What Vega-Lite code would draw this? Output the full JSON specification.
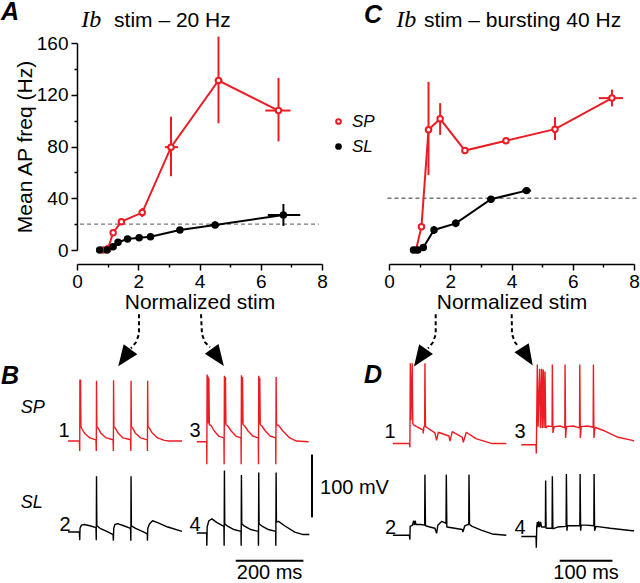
{
"$schema": "https://vega.github.io/schema/vega-lite/v6.json",
"background": "white",
"padding": {"left": 0, "top": 0, "right": 0, "bottom": 0},
"autosize": {"type": "pad"},
"config": {
 "view": {"stroke": null},
 "font": "Liberation Sans",
 "axis": {"domainColor": "black", "domainWidth": 1.5, "tickColor": "black", "tickWidth": 1.5, "labelColor": "black", "labelFont": "Liberation Sans", "labelFontSize": 19, "titleFont": "Liberation Sans", "titleFontSize": 21, "titleFontWeight": "normal", "titleColor": "black", "grid": false, "labelFlush": false, "labelOverlap": false}
},
"datasets": {
 "rA": [
  {"cell":"SP","stim":0.85,"freq":0,"stim_lo":0.85,"stim_hi":0.85,"freq_lo":0,"freq_hi":0},
  {"cell":"SP","stim":1.01,"freq":1,"stim_lo":1.01,"stim_hi":1.01,"freq_lo":1,"freq_hi":1},
  {"cell":"SP","stim":1.18,"freq":13.4,"stim_lo":1.18,"stim_hi":1.18,"freq_lo":11.5,"freq_hi":15.3},
  {"cell":"SP","stim":1.45,"freq":21.9,"stim_lo":1.4,"stim_hi":1.5,"freq_lo":20,"freq_hi":24},
  {"cell":"SP","stim":2.13,"freq":28.9,"stim_lo":2.05,"stim_hi":2.21,"freq_lo":25.5,"freq_hi":32.5},
  {"cell":"SP","stim":3.07,"freq":79.5,"stim_lo":2.87,"stim_hi":3.3,"freq_lo":57,"freq_hi":103},
  {"cell":"SP","stim":4.62,"freq":131,"stim_lo":4.5,"stim_hi":4.75,"freq_lo":98,"freq_hi":165},
  {"cell":"SP","stim":6.58,"freq":107.8,"stim_lo":6.15,"stim_hi":6.97,"freq_lo":84,"freq_hi":133},
  {"cell":"SL","stim":0.74,"freq":0,"stim_lo":0.74,"stim_hi":0.74,"freq_lo":0,"freq_hi":0},
  {"cell":"SL","stim":0.98,"freq":0,"stim_lo":0.98,"stim_hi":0.98,"freq_lo":0,"freq_hi":0},
  {"cell":"SL","stim":1.18,"freq":2.6,"stim_lo":1.18,"stim_hi":1.18,"freq_lo":2.6,"freq_hi":2.6},
  {"cell":"SL","stim":1.34,"freq":6,"stim_lo":1.34,"stim_hi":1.34,"freq_lo":6,"freq_hi":6},
  {"cell":"SL","stim":1.65,"freq":8.5,"stim_lo":1.65,"stim_hi":1.65,"freq_lo":8.5,"freq_hi":8.5},
  {"cell":"SL","stim":2.03,"freq":9.5,"stim_lo":2.03,"stim_hi":2.03,"freq_lo":9.5,"freq_hi":9.5},
  {"cell":"SL","stim":2.4,"freq":10.3,"stim_lo":2.4,"stim_hi":2.4,"freq_lo":10.3,"freq_hi":10.3},
  {"cell":"SL","stim":3.36,"freq":15.5,"stim_lo":3.26,"stim_hi":3.46,"freq_lo":14,"freq_hi":17},
  {"cell":"SL","stim":4.51,"freq":19.4,"stim_lo":4.35,"stim_hi":4.65,"freq_lo":17,"freq_hi":22},
  {"cell":"SL","stim":6.74,"freq":27.1,"stim_lo":6.23,"stim_hi":7.29,"freq_lo":18.6,"freq_hi":35.6}
 ],
 "rC": [
  {"cell":"SP","stim":0.88,"freq":0,"stim_lo":0.88,"stim_hi":0.88,"freq_lo":0,"freq_hi":0},
  {"cell":"SP","stim":1.06,"freq":18,"stim_lo":1.06,"stim_hi":1.06,"freq_lo":16,"freq_hi":20},
  {"cell":"SP","stim":1.29,"freq":92.9,"stim_lo":1.25,"stim_hi":1.33,"freq_lo":58,"freq_hi":130},
  {"cell":"SP","stim":1.67,"freq":101.4,"stim_lo":1.62,"stim_hi":1.72,"freq_lo":89,"freq_hi":113.5},
  {"cell":"SP","stim":2.48,"freq":76.9,"stim_lo":2.48,"stim_hi":2.48,"freq_lo":76.9,"freq_hi":76.9},
  {"cell":"SP","stim":3.82,"freq":84.4,"stim_lo":3.76,"stim_hi":3.88,"freq_lo":83,"freq_hi":86},
  {"cell":"SP","stim":5.42,"freq":93.4,"stim_lo":5.34,"stim_hi":5.5,"freq_lo":85,"freq_hi":102.7},
  {"cell":"SP","stim":7.28,"freq":117.4,"stim_lo":6.85,"stim_hi":7.64,"freq_lo":111,"freq_hi":124},
  {"cell":"SL","stim":0.8,"freq":0,"stim_lo":0.8,"stim_hi":0.8,"freq_lo":0,"freq_hi":0},
  {"cell":"SL","stim":0.94,"freq":0,"stim_lo":0.94,"stim_hi":0.94,"freq_lo":0,"freq_hi":0},
  {"cell":"SL","stim":1.12,"freq":2,"stim_lo":1.12,"stim_hi":1.12,"freq_lo":2,"freq_hi":2},
  {"cell":"SL","stim":1.47,"freq":15.5,"stim_lo":1.39,"stim_hi":1.55,"freq_lo":12.5,"freq_hi":18.5},
  {"cell":"SL","stim":2.18,"freq":20.6,"stim_lo":2.06,"stim_hi":2.3,"freq_lo":17.6,"freq_hi":23.6},
  {"cell":"SL","stim":3.33,"freq":39.2,"stim_lo":3.21,"stim_hi":3.45,"freq_lo":36.7,"freq_hi":41.7},
  {"cell":"SL","stim":4.49,"freq":45.9,"stim_lo":4.34,"stim_hi":4.64,"freq_lo":43.4,"freq_hi":48.4}
 ],
 "arrows": [
  {"arrow":"A1","seq":1,"t":175,"v":134},{"arrow":"A1","seq":2,"t":175,"v":102.1},{"arrow":"A1","seq":3,"t":166.2,"v":89.4},{"arrow":"A1","seq":4,"t":151.4,"v":79.8},
  {"arrow":"A2","seq":1,"t":-17.2,"v":134},{"arrow":"A2","seq":2,"t":-14.3,"v":102.1},{"arrow":"A2","seq":3,"t":-5.4,"v":89.4},{"arrow":"A2","seq":4,"t":9.4,"v":81.4},
  {"arrow":"C1","seq":1,"t":48.9,"v":134},{"arrow":"C1","seq":2,"t":48.9,"v":102.1},{"arrow":"C1","seq":3,"t":43.8,"v":89.4},{"arrow":"C1","seq":4,"t":34.3,"v":79.8},
  {"arrow":"C2","seq":1,"t":-46.6,"v":134},{"arrow":"C2","seq":2,"t":-46.1,"v":102.1},{"arrow":"C2","seq":3,"t":-40.4,"v":89.4},{"arrow":"C2","seq":4,"t":-32.8,"v":81.4}
 ],
 "B1": [{"t":-34.6,"v":-68},{"t":-1,"v":-68},{"t":0,"v":-84},{"t":0.6,"v":30},{"t":1.5,"v":-30},{"t":2.5,"v":30},{"t":3.5,"v":-45},{"t":6,"v":-48},{"t":15,"v":-56},{"t":30,"v":-63},{"t":48,"v":-66},{"t":49,"v":-84},{"t":49.6,"v":28},{"t":50.6,"v":-45},{"t":54,"v":-47},{"t":62,"v":-55},{"t":78,"v":-63},{"t":98.5,"v":-66},{"t":99.4,"v":-84},{"t":100,"v":29},{"t":101,"v":-45},{"t":104.5,"v":-47},{"t":113,"v":-55},{"t":128,"v":-63},{"t":150,"v":-66},{"t":151,"v":-84},{"t":151.6,"v":28},{"t":152.6,"v":-45},{"t":156,"v":-47},{"t":164,"v":-55},{"t":180,"v":-63},{"t":199.5,"v":-66},{"t":200,"v":-84},{"t":200.6,"v":28},{"t":201.6,"v":-45},{"t":205,"v":-47},{"t":214,"v":-55},{"t":230,"v":-63},{"t":250,"v":-67},{"t":265,"v":-68},{"t":302,"v":-68}],
 "B3": [{"t":-29.6,"v":-69},{"t":-0.5,"v":-69},{"t":0,"v":-105},{"t":0.8,"v":38},{"t":2,"v":-40},{"t":3,"v":36},{"t":4.5,"v":-40},{"t":6,"v":33},{"t":7.5,"v":-42},{"t":12,"v":-43},{"t":22,"v":-52},{"t":35,"v":-60},{"t":50.5,"v":-63},{"t":51.2,"v":-105},{"t":52,"v":36},{"t":53.2,"v":-40},{"t":55,"v":34},{"t":56.5,"v":-42},{"t":62,"v":-44},{"t":72,"v":-52},{"t":86,"v":-60},{"t":101,"v":-63},{"t":101.5,"v":-105},{"t":102.3,"v":37},{"t":103.5,"v":-40},{"t":105.5,"v":34},{"t":107,"v":-42},{"t":112,"v":-44},{"t":122,"v":-52},{"t":136,"v":-60},{"t":152.2,"v":-63},{"t":152.7,"v":-105},{"t":153.5,"v":36},{"t":154.7,"v":-40},{"t":156.5,"v":33},{"t":158,"v":-42},{"t":163,"v":-44},{"t":173,"v":-52},{"t":187,"v":-60},{"t":203.5,"v":-63},{"t":204,"v":-105},{"t":204.8,"v":34},{"t":206,"v":-42},{"t":212,"v":-43},{"t":225,"v":-52},{"t":245,"v":-63},{"t":265,"v":-68},{"t":301,"v":-69}],
 "B2": [{"t":-34.6,"v":-68},{"t":-1,"v":-68},{"t":0,"v":-81},{"t":1,"v":-62},{"t":5,"v":-57},{"t":13,"v":-56},{"t":30,"v":-58},{"t":48,"v":-61},{"t":49,"v":-81},{"t":49.6,"v":21},{"t":50.6,"v":-58},{"t":60,"v":-62},{"t":80,"v":-67},{"t":98.5,"v":-72},{"t":99.4,"v":-82},{"t":100.5,"v":-62},{"t":104,"v":-56},{"t":112,"v":-54.5},{"t":130,"v":-58},{"t":150,"v":-62},{"t":151,"v":-82},{"t":151.6,"v":21},{"t":152.6,"v":-58},{"t":165,"v":-62},{"t":185,"v":-67},{"t":199.5,"v":-71},{"t":200,"v":-82},{"t":201,"v":-62},{"t":206,"v":-55},{"t":215,"v":-50},{"t":230,"v":-53},{"t":260,"v":-60},{"t":302,"v":-67}],
 "B4": [{"t":-29.6,"v":-69.5},{"t":-0.5,"v":-69.5},{"t":0,"v":-90},{"t":1,"v":-60},{"t":6,"v":-50},{"t":15,"v":-47},{"t":30,"v":-53},{"t":50.5,"v":-59},{"t":51.2,"v":-90},{"t":52,"v":30},{"t":53,"v":-55},{"t":60,"v":-58},{"t":80,"v":-64},{"t":101,"v":-67},{"t":101.5,"v":-90},{"t":102.3,"v":23},{"t":103.3,"v":-55},{"t":110,"v":-58},{"t":130,"v":-64},{"t":152.2,"v":-67},{"t":152.7,"v":-90},{"t":153.5,"v":27},{"t":154.5,"v":-55},{"t":162,"v":-58},{"t":182,"v":-64},{"t":203.5,"v":-67},{"t":204,"v":-90},{"t":204.8,"v":27},{"t":205.8,"v":-52},{"t":212,"v":-51},{"t":230,"v":-58},{"t":260,"v":-68},{"t":285,"v":-72},{"t":303,"v":-72}],
 "D1": [{"t":-32.3,"v":-72},{"t":-0.5,"v":-72},{"t":0,"v":-78},{"t":0.8,"v":56},{"t":2,"v":-35},{"t":4.4,"v":56},{"t":5.5,"v":-40},{"t":8,"v":-43},{"t":15,"v":-46},{"t":24.8,"v":-50},{"t":25.3,"v":-56},{"t":26.5,"v":-45},{"t":28,"v":-45},{"t":28.5,"v":56},{"t":29.5,"v":-45},{"t":35,"v":-48},{"t":47.4,"v":-55},{"t":50.6,"v":-67},{"t":53.8,"v":-54},{"t":74,"v":-60},{"t":75.9,"v":-68},{"t":80.3,"v":-53},{"t":99.3,"v":-62},{"t":101.2,"v":-70},{"t":106.9,"v":-54},{"t":125,"v":-64},{"t":156,"v":-72},{"t":182.7,"v":-72}],
 "D3": [{"t":-28.5,"v":-74},{"t":-0.5,"v":-74},{"t":0,"v":-88},{"t":1.9,"v":54},{"t":3.5,"v":-45},{"t":6.4,"v":47},{"t":8,"v":-47},{"t":10.2,"v":47},{"t":11.5,"v":-47},{"t":13.3,"v":46},{"t":14.8,"v":-47},{"t":16.5,"v":43},{"t":18,"v":-47},{"t":22,"v":-44},{"t":29.9,"v":-45},{"t":30.4,"v":54},{"t":31.5,"v":-55},{"t":34,"v":-45},{"t":45,"v":-44},{"t":54,"v":-47},{"t":54.5,"v":54},{"t":55.5,"v":-63},{"t":57,"v":-45},{"t":70,"v":-44},{"t":81.9,"v":-47},{"t":82.4,"v":54},{"t":83.4,"v":-63},{"t":85,"v":-45},{"t":97,"v":-44},{"t":107.7,"v":-46},{"t":108.2,"v":54},{"t":109.2,"v":-63},{"t":111,"v":-46},{"t":130,"v":-52},{"t":155,"v":-62},{"t":182,"v":-67},{"t":185.4,"v":-68}],
 "D2": [{"t":-32.3,"v":-73},{"t":-1,"v":-73},{"t":0,"v":-80},{"t":0.5,"v":-59},{"t":5,"v":-57},{"t":7,"v":-50},{"t":8.5,"v":-57},{"t":10,"v":-50},{"t":11.5,"v":-56},{"t":20,"v":-56},{"t":28,"v":-57},{"t":28.5,"v":23.5},{"t":29.5,"v":-58},{"t":38,"v":-60},{"t":47.4,"v":-62},{"t":50.6,"v":-70},{"t":53,"v":-57},{"t":60,"v":-51},{"t":66,"v":-53},{"t":68.4,"v":-54},{"t":69,"v":23.5},{"t":70,"v":-60},{"t":85,"v":-62},{"t":99.3,"v":-64},{"t":100.5,"v":-68},{"t":104,"v":-58},{"t":110,"v":-56},{"t":111.5,"v":-56},{"t":112,"v":23.5},{"t":113,"v":-56},{"t":118,"v":-59},{"t":135,"v":-65},{"t":156,"v":-71},{"t":182.7,"v":-73}],
 "D4": [{"t":-28.5,"v":-75},{"t":-0.5,"v":-75},{"t":0,"v":-93},{"t":0.8,"v":-60},{"t":2,"v":-52},{"t":3,"v":-60},{"t":4.5,"v":-51},{"t":6,"v":-60},{"t":8,"v":-52},{"t":10,"v":-60},{"t":14,"v":-60},{"t":17.2,"v":-60},{"t":17.7,"v":14},{"t":18.5,"v":-62},{"t":25,"v":-62},{"t":29.9,"v":-62},{"t":30.4,"v":21},{"t":31.4,"v":-63},{"t":40,"v":-60},{"t":56.5,"v":-59},{"t":57,"v":24.5},{"t":58,"v":-66},{"t":59,"v":-58},{"t":70,"v":-58},{"t":82.5,"v":-58},{"t":83,"v":24.5},{"t":84,"v":-66},{"t":85,"v":-57},{"t":95,"v":-57},{"t":109,"v":-58},{"t":109.5,"v":24.5},{"t":110.5,"v":-66},{"t":113,"v":-59},{"t":140,"v":-62},{"t":182,"v":-66},{"t":185.4,"v":-66}]
},
"bounds": "full",
"spacing": -2,
"resolve": {"scale": {"stroke": "independent", "fill": "independent"}},
"vconcat": [
 {
  "hconcat": [
   {
    "width": 245, "height": 207,
    "resolve": {"axis": {"x": "independent", "y": "independent"}},
    "layer": [
     {"data": {"values": [{}]}, "mark": {"type": "rule", "strokeDash": [4, 3], "color": "#777777", "strokeWidth": 1.3},
      "encoding": {
       "x": {"datum": 0.1, "type": "quantitative", "scale": {"domain": [0, 8], "nice": false, "zero": false},
        "axis": {"values": [0,1,2,3,4,5,6,7,8], "labelExpr": "datum.value % 2 === 0 ? datum.label : ''", "tickSize": {"condition": {"test": "datum.value % 2 === 0", "value": 6}, "value": 3}, "offset": 14, "title": "Normalized stim", "titlePadding": 0, "labelPadding": 2}},
       "x2": {"datum": 7.9},
       "y": {"datum": 20, "type": "quantitative", "scale": {"domain": [0, 160], "nice": false, "zero": false},
        "axis": {"values": [0,20,40,60,80,100,120,140,160], "labelExpr": "datum.value % 40 === 0 ? datum.label : ''", "tickSize": {"condition": {"test": "datum.value % 40 === 0", "value": 6}, "value": 3}, "title": "Mean AP freq (Hz)", "titlePadding": 1, "labelPadding": 3}}}},
     {"data": {"name": "rA"}, "mark": {"type": "rule", "strokeWidth": 2},
      "encoding": {"x": {"field": "stim", "type": "quantitative", "scale": {"domain": [0, 8], "nice": false, "zero": false}, "axis": null}, "y": {"field": "freq_lo", "type": "quantitative", "scale": {"domain": [0, 160], "nice": false, "zero": false}, "axis": null}, "y2": {"field": "freq_hi"}, "stroke": {"condition": {"test": "datum.cell === 'SP'", "value": "#ec1c24"}, "value": "black"}}},
     {"data": {"name": "rA"}, "mark": {"type": "rule", "strokeWidth": 2},
      "encoding": {"x": {"field": "stim_lo", "type": "quantitative", "scale": {"domain": [0, 8], "nice": false, "zero": false}, "axis": null}, "x2": {"field": "stim_hi"}, "y": {"field": "freq", "type": "quantitative", "scale": {"domain": [0, 160], "nice": false, "zero": false}, "axis": null}, "stroke": {"condition": {"test": "datum.cell === 'SP'", "value": "#ec1c24"}, "value": "black"}}},
     {"data": {"name": "rA"}, "mark": {"type": "line", "strokeWidth": 2},
      "encoding": {"x": {"field": "stim", "type": "quantitative", "scale": {"domain": [0, 8], "nice": false, "zero": false}, "axis": null}, "y": {"field": "freq", "type": "quantitative", "scale": {"domain": [0, 160], "nice": false, "zero": false}, "axis": null},
       "detail": {"field": "cell", "type": "nominal"}, "stroke": {"condition": {"test": "datum.cell === 'SP'", "value": "#ec1c24"}, "value": "black"}}},
     {"data": {"name": "rA"}, "mark": {"type": "point", "shape": "circle", "filled": true, "size": 30, "strokeWidth": 2, "opacity": 1},
      "encoding": {"x": {"field": "stim", "type": "quantitative", "scale": {"domain": [0, 8], "nice": false, "zero": false}, "axis": null}, "y": {"field": "freq", "type": "quantitative", "scale": {"domain": [0, 160], "nice": false, "zero": false}, "axis": null},
                   "stroke": {"field": "cell", "type": "nominal", "scale": {"domain": ["SP", "SL"], "range": ["#ec1c24", "black"]}, "legend": null},
                   "fill": {"field": "cell", "type": "nominal", "scale": {"domain": ["SP", "SL"], "range": ["white", "black"]}, "legend": null}}},
     {"data": {"values": [{}]}, "mark": {"type": "text", "text": "A", "font": "Liberation Sans", "fontSize": 25, "fontWeight": "bold", "fontStyle": "italic", "align": "left", "baseline": "alphabetic", "color": "black"},
      "encoding": {"x": {"datum": -2.48, "scale": {"domain": [0, 8], "nice": false, "zero": false}, "axis": null}, "y": {"datum": 177.4, "scale": {"domain": [0, 160], "nice": false, "zero": false}, "axis": null}}},
     {"data": {"values": [{}]}, "mark": {"type": "text", "text": "Ib", "font": "Liberation Serif", "fontSize": 24, "fontStyle": "italic", "align": "left", "baseline": "alphabetic", "color": "black"},
      "encoding": {"x": {"datum": 0.14, "scale": {"domain": [0, 8], "nice": false, "zero": false}, "axis": null}, "y": {"datum": 172.7, "scale": {"domain": [0, 160], "nice": false, "zero": false}, "axis": null}}},
     {"data": {"values": [{}]}, "mark": {"type": "text", "text": "stim – 20 Hz", "font": "Liberation Sans", "fontSize": 21, "align": "left", "baseline": "alphabetic", "color": "black"},
      "encoding": {"x": {"datum": 1.21, "scale": {"domain": [0, 8], "nice": false, "zero": false}, "axis": null}, "y": {"datum": 172.7, "scale": {"domain": [0, 160], "nice": false, "zero": false}, "axis": null}}}
    ]
   },
   {
    "width": 245, "height": 207,
    "resolve": {"axis": {"x": "independent", "y": "independent"}},
    "layer": [
     {"data": {"values": [{}]}, "mark": {"type": "rule", "strokeDash": [4, 3], "color": "#777777", "strokeWidth": 1.3},
      "encoding": {
       "x": {"datum": -0.05, "type": "quantitative", "scale": {"domain": [0, 8], "nice": false, "zero": false},
        "axis": {"values": [0,1,2,3,4,5,6,7,8], "labelExpr": "datum.value % 2 === 0 ? datum.label : ''", "tickSize": {"condition": {"test": "datum.value % 2 === 0", "value": 6}, "value": 3}, "offset": 14, "title": "Normalized stim", "titlePadding": 0, "labelPadding": 2}},
       "x2": {"datum": 8.15},
       "y": {"datum": 40, "type": "quantitative", "scale": {"domain": [0, 160], "nice": false, "zero": false}, "axis": null}}},
     {"data": {"name": "rC"}, "mark": {"type": "rule", "strokeWidth": 2},
      "encoding": {"x": {"field": "stim", "type": "quantitative", "scale": {"domain": [0, 8], "nice": false, "zero": false}, "axis": null}, "y": {"field": "freq_lo", "type": "quantitative", "scale": {"domain": [0, 160], "nice": false, "zero": false}, "axis": null}, "y2": {"field": "freq_hi"}, "stroke": {"condition": {"test": "datum.cell === 'SP'", "value": "#ec1c24"}, "value": "black"}}},
     {"data": {"name": "rC"}, "mark": {"type": "rule", "strokeWidth": 2},
      "encoding": {"x": {"field": "stim_lo", "type": "quantitative", "scale": {"domain": [0, 8], "nice": false, "zero": false}, "axis": null}, "x2": {"field": "stim_hi"}, "y": {"field": "freq", "type": "quantitative", "scale": {"domain": [0, 160], "nice": false, "zero": false}, "axis": null}, "stroke": {"condition": {"test": "datum.cell === 'SP'", "value": "#ec1c24"}, "value": "black"}}},
     {"data": {"name": "rC"}, "mark": {"type": "line", "strokeWidth": 2},
      "encoding": {"x": {"field": "stim", "type": "quantitative", "scale": {"domain": [0, 8], "nice": false, "zero": false}, "axis": null}, "y": {"field": "freq", "type": "quantitative", "scale": {"domain": [0, 160], "nice": false, "zero": false}, "axis": null},
       "detail": {"field": "cell", "type": "nominal"}, "stroke": {"condition": {"test": "datum.cell === 'SP'", "value": "#ec1c24"}, "value": "black"}}},
     {"data": {"name": "rC"}, "mark": {"type": "point", "shape": "circle", "filled": true, "size": 30, "strokeWidth": 2, "opacity": 1},
      "encoding": {"x": {"field": "stim", "type": "quantitative", "scale": {"domain": [0, 8], "nice": false, "zero": false}, "axis": null}, "y": {"field": "freq", "type": "quantitative", "scale": {"domain": [0, 160], "nice": false, "zero": false}, "axis": null},
                   "stroke": {"field": "cell", "type": "nominal", "scale": {"domain": ["SP", "SL"], "range": ["#ec1c24", "black"]},
                     "legend": {"title": null, "orient": "none", "legendX": -59, "legendY": 70, "padding": 0, "symbolType": "circle", "symbolSize": 22, "symbolStrokeWidth": 2, "labelFont": "Liberation Sans", "labelFontSize": 17, "labelFontStyle": "italic", "labelColor": "black", "labelOffset": 5, "rowPadding": 7}},
                   "fill": {"field": "cell", "type": "nominal", "scale": {"domain": ["SP", "SL"], "range": ["white", "black"]},
                     "legend": {"title": null, "orient": "none", "legendX": -59, "legendY": 70, "padding": 0, "symbolType": "circle", "symbolSize": 22, "symbolStrokeWidth": 2, "labelFont": "Liberation Sans", "labelFontSize": 17, "labelFontStyle": "italic", "labelColor": "black", "labelOffset": 5, "rowPadding": 7}}}},
     {"data": {"values": [{}]}, "mark": {"type": "text", "text": "C", "font": "Liberation Sans", "fontSize": 25, "fontWeight": "bold", "fontStyle": "italic", "align": "left", "baseline": "alphabetic", "color": "black"},
      "encoding": {"x": {"datum": -0.82, "scale": {"domain": [0, 8], "nice": false, "zero": false}, "axis": null}, "y": {"datum": 175.8, "scale": {"domain": [0, 160], "nice": false, "zero": false}, "axis": null}}},
     {"data": {"values": [{}]}, "mark": {"type": "text", "text": "Ib", "font": "Liberation Serif", "fontSize": 24, "fontStyle": "italic", "align": "left", "baseline": "alphabetic", "color": "black"},
      "encoding": {"x": {"datum": 0.24, "scale": {"domain": [0, 8], "nice": false, "zero": false}, "axis": null}, "y": {"datum": 172.7, "scale": {"domain": [0, 160], "nice": false, "zero": false}, "axis": null}}},
     {"data": {"values": [{}]}, "mark": {"type": "text", "text": "stim – bursting 40 Hz", "font": "Liberation Sans", "fontSize": 21, "align": "left", "baseline": "alphabetic", "color": "black"},
      "encoding": {"x": {"datum": 1.14, "scale": {"domain": [0, 8], "nice": false, "zero": false}, "axis": null}, "y": {"datum": 172.7, "scale": {"domain": [0, 160], "nice": false, "zero": false}, "axis": null}}}
    ]
   }
  ],
  "spacing": 67,
  "bounds": "flush",
  "resolve": {"scale": {"stroke": "independent", "fill": "independent"}}
 },
 {
  "hconcat": [
   {
    "width": 105, "height": 182,
    "resolve": {"scale": {"y": "independent"}},
    "layer": [
     {"data": {"name": "B1"}, "mark": {"type": "line", "color": "#ec1c24", "strokeWidth": 1.4, "strokeJoin": "bevel"},
      "encoding": {"x": {"field": "t", "type": "quantitative", "scale": {"domain": [-8, 302], "nice": false, "zero": false}, "axis": null}, "y": {"field": "v", "type": "quantitative", "scale": {"domain": [-240, 50], "nice": false, "zero": false}, "axis": null}}},
     {"data": {"name": "B2"}, "mark": {"type": "line", "color": "black", "strokeWidth": 1.4, "strokeJoin": "bevel"},
      "encoding": {"x": {"field": "t", "type": "quantitative", "axis": null}, "y": {"field": "v", "type": "quantitative", "scale": {"domain": [-95, 195], "nice": false, "zero": false}, "axis": null}}},
     {"data": {"name": "arrows"}, "transform": [{"filter": "datum.arrow === 'A1'"}], "mark": {"type": "line", "strokeDash": [4, 3], "strokeWidth": 2, "color": "black"},
      "encoding": {"x": {"field": "t", "type": "quantitative", "axis": null}, "y": {"field": "v", "type": "quantitative", "scale": {"domain": [-240, 50], "nice": false, "zero": false}, "axis": null}, "order": {"field": "seq", "type": "quantitative"}}},
     {"data": {"values": [{}]}, "mark": {"type": "point", "shape": "M0,-1L-0.8,1L0.8,1Z", "size": 441, "angle": 215.7, "filled": true, "color": "black", "opacity": 1}, "encoding": {"x": {"datum": 131.9, "axis": null}, "y": {"datum": 64.7, "scale": {"domain": [-240, 50], "nice": false, "zero": false}, "axis": null}}},
     {"data": {"values": [{}]}, "mark": {"type": "text", "text": "B", "font": "Liberation Sans", "fontSize": 25, "fontWeight": "bold", "fontStyle": "italic", "align": "left", "baseline": "alphabetic", "color": "black"}, "encoding": {"x": {"datum": -232.4, "axis": null}, "y": {"datum": 22.4, "scale": {"domain": [-240, 50], "nice": false, "zero": false}, "axis": null}}},
     {"data": {"values": [{}]}, "mark": {"type": "text", "text": "SP", "font": "Liberation Sans", "fontSize": 18, "fontStyle": "italic", "align": "left", "baseline": "alphabetic", "color": "black"}, "encoding": {"x": {"datum": -174.2, "axis": null}, "y": {"datum": -23.8, "scale": {"domain": [-240, 50], "nice": false, "zero": false}, "axis": null}}},
     {"data": {"values": [{}]}, "mark": {"type": "text", "text": "1", "font": "Liberation Sans", "fontSize": 20, "align": "right", "baseline": "alphabetic", "color": "black"}, "encoding": {"x": {"datum": -30.1, "axis": null}, "y": {"datum": -61.2, "scale": {"domain": [-240, 50], "nice": false, "zero": false}, "axis": null}}},
     {"data": {"values": [{}]}, "mark": {"type": "text", "text": "SL", "font": "Liberation Sans", "fontSize": 18, "fontStyle": "italic", "align": "left", "baseline": "alphabetic", "color": "black"}, "encoding": {"x": {"datum": -174.2, "axis": null}, "y": {"datum": -30.1, "scale": {"domain": [-95, 195], "nice": false, "zero": false}, "axis": null}}},
     {"data": {"values": [{}]}, "mark": {"type": "text", "text": "2", "font": "Liberation Sans", "fontSize": 20, "align": "right", "baseline": "alphabetic", "color": "black"}, "encoding": {"x": {"datum": -26.6, "axis": null}, "y": {"datum": -66.8, "scale": {"domain": [-95, 195], "nice": false, "zero": false}, "axis": null}}}
    ]
   },
   {
    "width": 183, "height": 182,
    "resolve": {"scale": {"y": "independent"}},
    "layer": [
     {"data": {"name": "B3"}, "mark": {"type": "line", "color": "#ec1c24", "strokeWidth": 1.4, "strokeJoin": "bevel"},
      "encoding": {"x": {"field": "t", "type": "quantitative", "scale": {"domain": [-32, 509], "nice": false, "zero": false}, "axis": null}, "y": {"field": "v", "type": "quantitative", "scale": {"domain": [-240, 50], "nice": false, "zero": false}, "axis": null}}},
     {"data": {"name": "B4"}, "mark": {"type": "line", "color": "black", "strokeWidth": 1.4, "strokeJoin": "bevel"},
      "encoding": {"x": {"field": "t", "type": "quantitative", "axis": null}, "y": {"field": "v", "type": "quantitative", "scale": {"domain": [-95, 195], "nice": false, "zero": false}, "axis": null}}},
     {"data": {"name": "arrows"}, "transform": [{"filter": "datum.arrow === 'A2'"}], "mark": {"type": "line", "strokeDash": [4, 3], "strokeWidth": 2, "color": "black"},
      "encoding": {"x": {"field": "t", "type": "quantitative", "axis": null}, "y": {"field": "v", "type": "quantitative", "scale": {"domain": [-240, 50], "nice": false, "zero": false}, "axis": null}, "order": {"field": "seq", "type": "quantitative"}}},
     {"data": {"values": [{}]}, "mark": {"type": "point", "shape": "M0,-1L-0.8,1L0.8,1Z", "size": 441, "angle": 144.5, "filled": true, "color": "black", "opacity": 1}, "encoding": {"x": {"datum": 32.3, "axis": null}, "y": {"datum": 65.1, "scale": {"domain": [-240, 50], "nice": false, "zero": false}, "axis": null}}},
     {"data": {"values": [{}]}, "mark": {"type": "text", "text": "3", "font": "Liberation Sans", "fontSize": 20, "align": "right", "baseline": "alphabetic", "color": "black"}, "encoding": {"x": {"datum": -18.1, "axis": null}, "y": {"datum": -61.2, "scale": {"domain": [-240, 50], "nice": false, "zero": false}, "axis": null}}},
     {"data": {"values": [{}]}, "mark": {"type": "text", "text": "4", "font": "Liberation Sans", "fontSize": 20, "align": "right", "baseline": "alphabetic", "color": "black"}, "encoding": {"x": {"datum": -18.1, "axis": null}, "y": {"datum": -66.8, "scale": {"domain": [-95, 195], "nice": false, "zero": false}, "axis": null}}},
     {"data": {"values": [{}]}, "mark": {"type": "rule", "color": "black", "strokeWidth": 2}, "encoding": {"x": {"datum": 310.9, "axis": null}, "y": {"datum": -44.5, "scale": {"domain": [-95, 195], "nice": false, "zero": false}, "axis": null}, "y2": {"datum": 55.5}}},
     {"data": {"values": [{}]}, "mark": {"type": "text", "text": "100 mV", "font": "Liberation Sans", "fontSize": 20, "align": "left", "baseline": "alphabetic", "color": "black"}, "encoding": {"x": {"datum": 334.6, "axis": null}, "y": {"datum": -7.8, "scale": {"domain": [-95, 195], "nice": false, "zero": false}, "axis": null}}},
     {"data": {"values": [{}]}, "mark": {"type": "rule", "color": "black", "strokeWidth": 2}, "encoding": {"x": {"datum": 85.5, "axis": null}, "x2": {"datum": 285.5}, "y": {"datum": -113.8, "scale": {"domain": [-95, 195], "nice": false, "zero": false}, "axis": null}}},
     {"data": {"values": [{}]}, "mark": {"type": "text", "text": "200 ms", "font": "Liberation Sans", "fontSize": 20, "align": "center", "baseline": "alphabetic", "color": "black"}, "encoding": {"x": {"datum": 185.5, "axis": null}, "y": {"datum": -143.3, "scale": {"domain": [-95, 195], "nice": false, "zero": false}, "axis": null}}}
    ]
   },
   {
    "width": 114, "height": 182,
    "resolve": {"scale": {"y": "independent"}},
    "layer": [
     {"data": {"name": "D1"}, "mark": {"type": "line", "color": "#ec1c24", "strokeWidth": 1.4, "strokeJoin": "bevel"},
      "encoding": {"x": {"field": "t", "type": "quantitative", "scale": {"domain": [-32, 184], "nice": false, "zero": false}, "axis": null}, "y": {"field": "v", "type": "quantitative", "scale": {"domain": [-240, 50], "nice": false, "zero": false}, "axis": null}}},
     {"data": {"name": "D2"}, "mark": {"type": "line", "color": "black", "strokeWidth": 1.4, "strokeJoin": "bevel"},
      "encoding": {"x": {"field": "t", "type": "quantitative", "axis": null}, "y": {"field": "v", "type": "quantitative", "scale": {"domain": [-95, 195], "nice": false, "zero": false}, "axis": null}}},
     {"data": {"name": "arrows"}, "transform": [{"filter": "datum.arrow === 'C1'"}], "mark": {"type": "line", "strokeDash": [4, 3], "strokeWidth": 2, "color": "black"},
      "encoding": {"x": {"field": "t", "type": "quantitative", "axis": null}, "y": {"field": "v", "type": "quantitative", "scale": {"domain": [-240, 50], "nice": false, "zero": false}, "axis": null}, "order": {"field": "seq", "type": "quantitative"}}},
     {"data": {"values": [{}]}, "mark": {"type": "point", "shape": "M0,-1L-0.8,1L0.8,1Z", "size": 441, "angle": 215, "filled": true, "color": "black", "opacity": 1}, "encoding": {"x": {"datum": 19.2, "axis": null}, "y": {"datum": 64.7, "scale": {"domain": [-240, 50], "nice": false, "zero": false}, "axis": null}}},
     {"data": {"values": [{}]}, "mark": {"type": "text", "text": "D", "font": "Liberation Sans", "fontSize": 25, "fontWeight": "bold", "fontStyle": "italic", "align": "left", "baseline": "alphabetic", "color": "black"}, "encoding": {"x": {"datum": -86.9, "axis": null}, "y": {"datum": 24.5, "scale": {"domain": [-240, 50], "nice": false, "zero": false}, "axis": null}}},
     {"data": {"values": [{}]}, "mark": {"type": "text", "text": "1", "font": "Liberation Sans", "fontSize": 20, "align": "right", "baseline": "alphabetic", "color": "black"}, "encoding": {"x": {"datum": -26.9, "axis": null}, "y": {"datum": -63.1, "scale": {"domain": [-240, 50], "nice": false, "zero": false}, "axis": null}}},
     {"data": {"values": [{}]}, "mark": {"type": "text", "text": "2", "font": "Liberation Sans", "fontSize": 20, "align": "right", "baseline": "alphabetic", "color": "black"}, "encoding": {"x": {"datum": -26.3, "axis": null}, "y": {"datum": -71.6, "scale": {"domain": [-95, 195], "nice": false, "zero": false}, "axis": null}}}
    ]
   },
   {
    "width": 114, "height": 182,
    "resolve": {"scale": {"y": "independent"}},
    "layer": [
     {"data": {"name": "D3"}, "mark": {"type": "line", "color": "#ec1c24", "strokeWidth": 1.4, "strokeJoin": "bevel"},
      "encoding": {"x": {"field": "t", "type": "quantitative", "scale": {"domain": [-29, 187], "nice": false, "zero": false}, "axis": null}, "y": {"field": "v", "type": "quantitative", "scale": {"domain": [-240, 50], "nice": false, "zero": false}, "axis": null}}},
     {"data": {"name": "D4"}, "mark": {"type": "line", "color": "black", "strokeWidth": 1.4, "strokeJoin": "bevel"},
      "encoding": {"x": {"field": "t", "type": "quantitative", "axis": null}, "y": {"field": "v", "type": "quantitative", "scale": {"domain": [-95, 195], "nice": false, "zero": false}, "axis": null}}},
     {"data": {"name": "arrows"}, "transform": [{"filter": "datum.arrow === 'C2'"}], "mark": {"type": "line", "strokeDash": [4, 3], "strokeWidth": 2, "color": "black"},
      "encoding": {"x": {"field": "t", "type": "quantitative", "axis": null}, "y": {"field": "v", "type": "quantitative", "scale": {"domain": [-240, 50], "nice": false, "zero": false}, "axis": null}, "order": {"field": "seq", "type": "quantitative"}}},
     {"data": {"values": [{}]}, "mark": {"type": "point", "shape": "M0,-1L-0.8,1L0.8,1Z", "size": 441, "angle": 148, "filled": true, "color": "black", "opacity": 1}, "encoding": {"x": {"datum": -17.3, "axis": null}, "y": {"datum": 66.4, "scale": {"domain": [-240, 50], "nice": false, "zero": false}, "axis": null}}},
     {"data": {"values": [{}]}, "mark": {"type": "text", "text": "3", "font": "Liberation Sans", "fontSize": 20, "align": "right", "baseline": "alphabetic", "color": "black"}, "encoding": {"x": {"datum": -20.1, "axis": null}, "y": {"datum": -63.1, "scale": {"domain": [-240, 50], "nice": false, "zero": false}, "axis": null}}},
     {"data": {"values": [{}]}, "mark": {"type": "text", "text": "4", "font": "Liberation Sans", "fontSize": 20, "align": "right", "baseline": "alphabetic", "color": "black"}, "encoding": {"x": {"datum": -20.1, "axis": null}, "y": {"datum": -71.6, "scale": {"domain": [-95, 195], "nice": false, "zero": false}, "axis": null}}},
     {"data": {"values": [{}]}, "mark": {"type": "rule", "color": "black", "strokeWidth": 2}, "encoding": {"x": {"datum": 44.3, "axis": null}, "x2": {"datum": 144.3}, "y": {"datum": -113.8, "scale": {"domain": [-95, 195], "nice": false, "zero": false}, "axis": null}}},
     {"data": {"values": [{}]}, "mark": {"type": "text", "text": "100 ms", "font": "Liberation Sans", "fontSize": 20, "align": "center", "baseline": "alphabetic", "color": "black"}, "encoding": {"x": {"datum": 94.3, "axis": null}, "y": {"datum": -143.3, "scale": {"domain": [-95, 195], "nice": false, "zero": false}, "axis": null}}}
    ]
   }
  ],
  "spacing": 14,
  "bounds": "flush"
 }
]
}
